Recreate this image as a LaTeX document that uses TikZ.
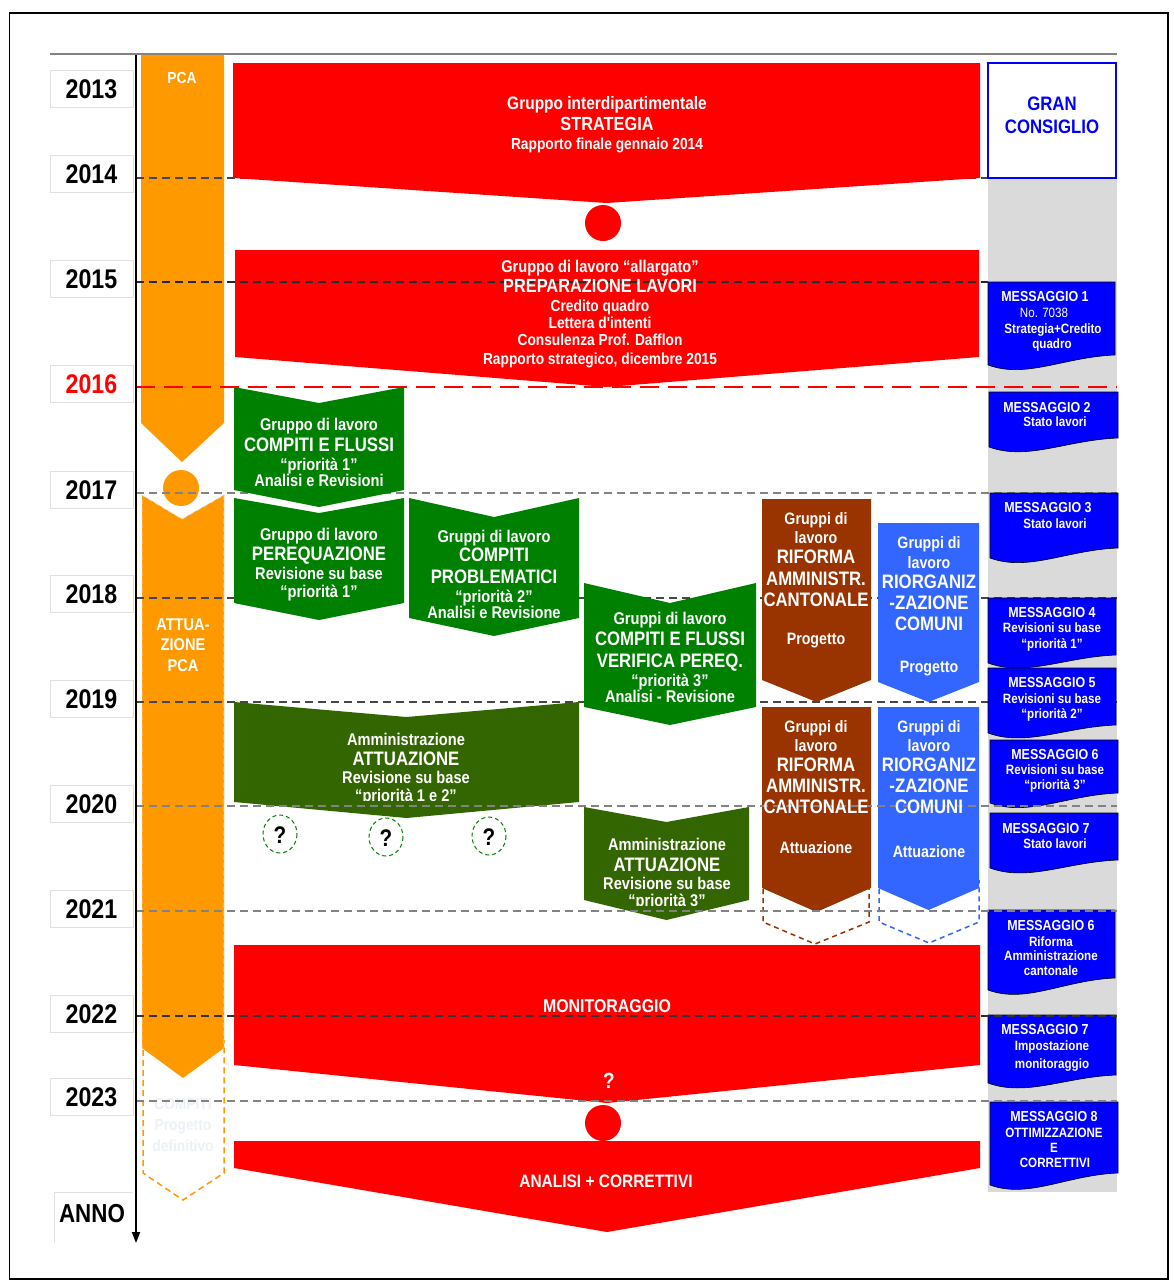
\documentclass[tikz,border=0pt]{standalone}
\usepackage{fontspec}
\setmainfont{Liberation Sans}
\newfontfamily\nf[FakeStretch=0.86]{Liberation Sans}
\usetikzlibrary{arrows.meta}

\definecolor{pcaorange}{RGB}{255,153,0}
\definecolor{bannerred}{RGB}{255,0,0}
\definecolor{grpgreen}{RGB}{0,128,0}
\definecolor{grpdark}{RGB}{51,102,0}
\definecolor{cantbrown}{RGB}{153,51,0}
\definecolor{comblue}{RGB}{51,102,255}
\definecolor{msgblue}{RGB}{0,0,255}
\definecolor{colgray}{RGB}{218,218,218}
\definecolor{lineD}{RGB}{70,70,70}
\definecolor{lineG}{RGB}{130,130,130}
\definecolor{fadetext}{RGB}{236,241,248}

\newcommand\fsz[1]{\nf\bfseries\fontsize{#1}{#1}\selectfont}
\newcounter{tl}
% one line of text: [colour]{x}{y}{size}{text}
\newcommand\tline[5][white]{\stepcounter{tl}%
  \node[txt, text=#1, font=\fsz{#4}] (tl\arabic{tl}) at (#2,#3) {#5};}
% chevron block: style, x0, x1, top, notch, side bottom, point
\newcommand\chev[7]{\path[#1] (#2,#4) -- ({(#2+#3)/2},#5) -- (#3,#4) -- (#3,#6) -- ({(#2+#3)/2},#7) -- (#2,#6) -- cycle;}
% message (document shape): x0, x1, top, right bottom, left bottom
\newcommand\msg[5]{\path[msgbox] (#1,#3) -- (#2,#3) -- (#2,#4) .. controls ({#1+0.6*(#2-#1)},{#4+2}) and ({#1+0.3*(#2-#1)},{#5+14}) .. (#1,#5) -- cycle;}

\begin{document}
\begin{tikzpicture}[x=1pt,y=-1pt,
  txt/.style={anchor=mid, inner sep=0pt, align=center, yshift=-2.5pt},
  yearbox/.style={draw=black!12, fill=white, minimum width=83pt, minimum height=37pt, inner sep=0pt, font=\fsz{27}},
  msgbox/.style={fill=msgblue, draw=black, line width=0.6pt},
  yline/.style={dash pattern=on 8pt off 5pt, line width=1.3pt},
  redline/.style={draw=bannerred, dash pattern=on 19pt off 9pt, line width=2.6pt},
  qcircle/.style={draw=grpgreen, dash pattern=on 4pt off 3pt, line width=1pt}]

\useasboundingbox (0,0) rectangle (1173,1282);
\fill[white] (0,0) rectangle (1173,1282);
\draw[line width=1.6pt] (9.5,13) rectangle (1168,1279);

% council column
\fill[colgray] (988,178) rectangle (1117,1192);
\draw[lineG, line width=1.5pt] (50,54) -- (1117,54);

% year labels
\foreach \y/\yr in {89/2013,174/2014,279/2015,490/2017,594/2018,699/2019,804/2020,909/2021,1014/2022,1097/2023}
  \node[yearbox] (y\yr) at (91.5,\y) {\yr};
\node[yearbox, text=bannerred] (y2016) at (91.5,384) {2016};
\path[draw=black!12] (54,1243) -- (54,1192) -- (133,1192);
\node[txt, font=\fsz{26}] (anno) at (92,1217) {ANNO};

% year grid, behind the blocks
\foreach \y/\c in {178/lineD,493/lineG,598/lineD,702/lineD}
  \draw[yline, \c] (136,\y) -- (1117,\y);

% PCA column
\draw[pcaorange, dash pattern=on 6pt off 4pt, line width=1.5pt] (143,1040) -- (143,1173) -- (183,1200) -- (224,1173) -- (224,1040);
\fill[pcaorange] (141,55) -- (224,55) -- (224,423) -- (182,462) -- (141,423) -- cycle;
\fill[pcaorange] (181,488) circle [radius=18];
\fill[pcaorange] (142,495) -- (182,519) -- (224,495) -- (224,1048) -- (183,1078) -- (142,1048) -- cycle;
\draw[white!80!gray, dash pattern=on 5pt off 3pt, line width=0.8pt] (142,1048) -- (142,495) -- (182,519) -- (224,495) -- (224,1048);
\tline{182}{78}{16}{PCA}
\tline{183}{625}{17}{ATTUA-}
\tline{183}{645}{17}{ZIONE}
\tline{183}{666}{17}{PCA}
\tline[fadetext]{183}{1104}{16}{COMPITI}
\tline[fadetext]{183}{1125}{16}{Progetto}
\tline[fadetext]{183}{1146}{16}{definitivo}

% strategy and preparation banners
\chev{fill=bannerred}{233}{980}{63}{63}{178}{203}
\fill[bannerred] (603,223) circle [radius=18];
\chev{fill=bannerred}{235}{979}{250}{250}{357}{387}

% work groups, first phase
\chev{fill=grpgreen}{234}{404}{387}{403}{490}{507}
\chev{fill=grpgreen}{234}{404}{498}{513}{603}{620}
\chev{fill=grpgreen}{409}{579}{498}{517}{618}{636}
\chev{fill=grpgreen}{584}{756}{583}{603}{707}{725}
\chev{fill=grpdark}{234}{579}{702}{717}{802}{818}
\chev{fill=grpdark}{584}{749}{807}{822}{900}{920}

% cantonal administration and municipalities
\draw[cantbrown, dash pattern=on 5pt off 4pt, line width=1.5pt] (763,880) -- (763,922) -- (815,944) -- (869,922) -- (869,880);
\draw[comblue, dash pattern=on 5pt off 4pt, line width=1.5pt] (879,880) -- (879,922) -- (929,943) -- (979,922) -- (979,880);
\chev{fill=cantbrown}{762}{871}{499}{499}{680}{702}
\chev{fill=cantbrown}{762}{871}{707}{707}{888}{912}
\chev{fill=comblue}{878}{979}{523}{523}{682}{702}
\chev{fill=comblue}{878}{979}{707}{707}{888}{910}

% open questions
\draw[qcircle] (280,834) ellipse [x radius=17, y radius=19];
\draw[qcircle] (386,837) ellipse [x radius=17, y radius=19];
\draw[qcircle] (489,836) ellipse [x radius=17, y radius=19];
\tline[black]{280}{838}{24}{?}
\tline[black]{386}{841}{24}{?}
\tline[black]{489}{840}{24}{?}

% monitoring and corrections
\chev{fill=bannerred}{234}{980}{945}{945}{1065}{1103}
\fill[bannerred] (603,1123) circle [radius=18];
\chev{fill=bannerred}{234}{980}{1141}{1141}{1168}{1232}

% Gran Consiglio and its messages
\draw[msgblue, fill=white, line width=1.8pt] (988,63) rectangle (1116,178);
\tline[msgblue]{1052}{105}{19.5}{GRAN}
\tline[msgblue]{1052}{128}{19.5}{CONSIGLIO}
\msg{988}{1115}{282}{355}{365}
\msg{989}{1118}{392}{438}{447}
\msg{990}{1118}{493}{548}{558}
\msg{988}{1116}{598}{655}{663}
\msg{988}{1116}{668}{725}{733}
\msg{990}{1118}{740}{793}{803}
\msg{990}{1118}{813}{860}{868}
\msg{988}{1115}{910}{978}{990}
\msg{988}{1116}{1015}{1075}{1083}
\msg{990}{1118}{1102}{1173}{1185}

% year grid drawn over the blocks
\foreach \y/\c in {178/lineD,493/lineG,598/lineD,702/lineD}
  \draw[yline, \c] (136,\y) -- (232,\y);
\draw[yline, black!85] (136,282) -- (988,282);
\draw[yline, lineG] (136,806) -- (1117,806);
\draw[yline, lineG] (136,911) -- (1117,911);
\draw[yline, black!80] (136,1016) -- (1117,1016);
\draw[yline, lineG] (136,1101) -- (1117,1101);
\draw[redline] (136,387) -- (1117,387);

% time axis
\draw[line width=1.8pt, -{Triangle[length=11pt,width=8pt]}] (136,55) -- (136,1243);

% banner texts
\tline{607}{104}{18}{Gruppo interdipartimentale}
\tline{607}{125}{19}{STRATEGIA}
\tline{607}{144}{16}{Rapporto finale gennaio 2014}
\tline{600}{267}{17}{Gruppo di lavoro “allargato”}
\tline{600}{287}{19}{PREPARAZIONE LAVORI}
\tline{600}{306}{16}{Credito quadro}
\tline{600}{323}{16}{Lettera d'intenti}
\tline{600}{340}{16}{Consulenza Prof. Dafflon}
\tline{600}{359}{16}{Rapporto strategico, dicembre 2015}
\tline{607}{1007}{18.5}{MONITORAGGIO}
\tline{609}{1083}{22}{?}
\tline{606}{1182}{18}{ANALISI + CORRETTIVI}

% work group texts
\tline{319}{425}{17}{Gruppo di lavoro}
\tline{319}{446}{19.5}{COMPITI E FLUSSI}
\tline{319}{465}{17}{“priorità 1”}
\tline{319}{481}{17}{Analisi e Revisioni}
\tline{319}{535}{17}{Gruppo di lavoro}
\tline{319}{555}{19.5}{PEREQUAZIONE}
\tline{319}{574}{17}{Revisione su base}
\tline{319}{592}{17}{“priorità 1”}
\tline{494}{537}{17}{Gruppi di lavoro}
\tline{494}{556}{19.5}{COMPITI}
\tline{494}{578}{19.5}{PROBLEMATICI}
\tline{494}{597}{17}{“priorità 2”}
\begin{scope}
  \clip (409,600) rectangle (579,618);
  \tline{494}{613}{17}{Analisi e Revisione}
\end{scope}
\tline{670}{619}{17}{Gruppi di lavoro}
\tline{670}{640}{19.5}{COMPITI E FLUSSI}
\tline{670}{662}{19.5}{VERIFICA PEREQ.}
\tline{670}{681}{17}{“priorità 3”}
\tline{670}{697}{17}{Analisi - Revisione}
\tline{406}{740}{17}{Amministrazione}
\tline{406}{760}{19.5}{ATTUAZIONE}
\tline{406}{778}{17}{Revisione su base}
\begin{scope}
  \clip (234,785) rectangle (579,800);
  \tline{406}{796}{17}{“priorità 1 e 2”}
\end{scope}
\tline{667}{845}{17}{Amministrazione}
\tline{667}{866}{19.5}{ATTUAZIONE}
\tline{667}{884}{17}{Revisione su base}
\begin{scope}
  \clip (584,890) rectangle (749,905);
  \tline{667}{901}{17}{“priorità 3”}
\end{scope}

% cantonal and municipal texts
\foreach \y/\s/\t in {519/16.5/{Gruppi di},538/16.5/{lavoro},558/19.5/{RIFORMA},580/19.5/{AMMINISTR.},601/19.5/{CANTONALE},639/16.5/{Progetto},
                      727/16.5/{Gruppi di},746/16.5/{lavoro},766/19.5/{RIFORMA},787/19.5/{AMMINISTR.},808/19.5/{CANTONALE},848/16.5/{Attuazione}}
  {\tline{816}{\y}{\s}{\t}}
\foreach \y/\s/\t in {543/16.5/{Gruppi di},563/16.5/{lavoro},583/19.5/{RIORGANIZ},604/19.5/{-ZAZIONE},625/19.5/{COMUNI},667/16.5/{Progetto},
                      727/16.5/{Gruppi di},746/16.5/{lavoro},766/19.5/{RIORGANIZ},787/19.5/{-ZAZIONE},808/19.5/{COMUNI},852/16.5/{Attuazione}}
  {\tline{929}{\y}{\s}{\t}}

% message texts
\tline{1045}{296}{14.5}{MESSAGGIO 1}
\tline{1044}{312}{13.5}{\mdseries No. 7038}
\tline{1053}{328}{13.5}{Strategia+Credito}
\tline{1052}{343}{13.5}{quadro}
\tline{1047}{407}{14.5}{MESSAGGIO 2}
\tline{1055}{421}{13.5}{Stato lavori}
\tline{1048}{507}{14.5}{MESSAGGIO 3}
\tline{1055}{523}{13.5}{Stato lavori}
\tline{1052}{612}{14.5}{MESSAGGIO 4}
\tline{1052}{627}{13.5}{Revisioni su base}
\tline{1052}{643}{13.5}{“priorità 1”}
\tline{1052}{682}{14.5}{MESSAGGIO 5}
\tline{1052}{698}{13.5}{Revisioni su base}
\tline{1052}{713}{13.5}{“priorità 2”}
\tline{1055}{754}{14.5}{MESSAGGIO 6}
\tline{1055}{769}{13.5}{Revisioni su base}
\tline{1055}{784}{13.5}{“priorità 3”}
\tline{1046}{828}{14.5}{MESSAGGIO 7}
\tline{1055}{843}{13.5}{Stato lavori}
\tline{1051}{925}{14.5}{MESSAGGIO 6}
\tline{1051}{941}{13.5}{Riforma}
\tline{1051}{955}{13.5}{Amministrazione}
\tline{1051}{970}{13.5}{cantonale}
\tline{1045}{1029}{14.5}{MESSAGGIO 7}
\tline{1052}{1045}{13.5}{Impostazione}
\tline{1052}{1063}{13.5}{monitoraggio}
\tline{1054}{1116}{14.5}{MESSAGGIO 8}
\tline{1054}{1132}{13.5}{OTTIMIZZAZIONE}
\tline{1054}{1147}{13.5}{E}
\tline{1055}{1162}{13.5}{CORRETTIVI}

\end{tikzpicture}
\end{document}
